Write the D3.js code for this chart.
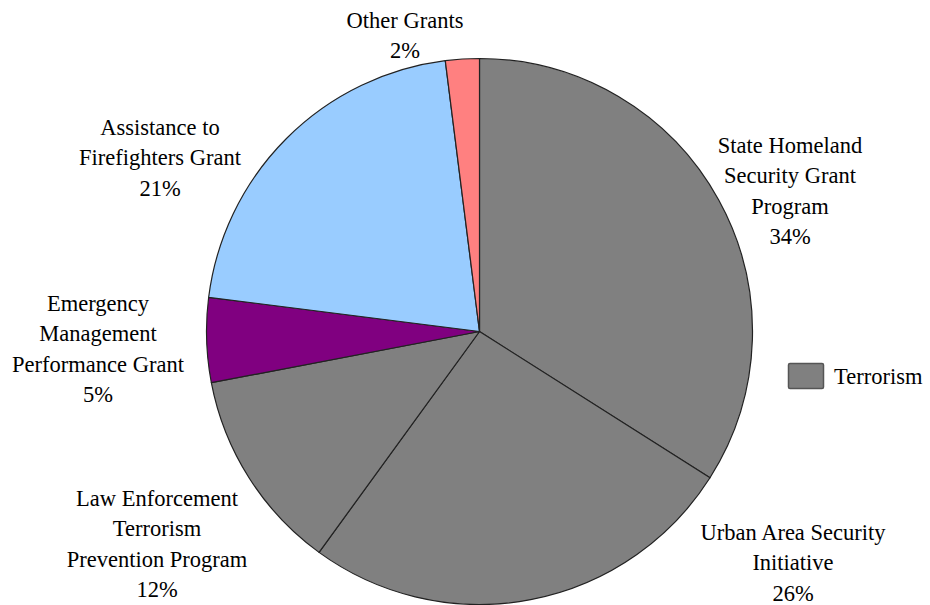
<!DOCTYPE html>
<html>
<head>
<meta charset="utf-8">
<script src="https://cdn.jsdelivr.net/npm/d3@7"></script>
</head>
<body style="margin:0">
<svg id="chart" width="930" height="605"></svg>
<script>
// Grant categories, clockwise from 12 o'clock
const categories = [
  "State Homeland Security Grant Program",
  "Urban Area Security Initiative",
  "Law Enforcement Terrorism Prevention Program",
  "Emergency Management Performance Grant",
  "Assistance to Firefighters Grant",
  "Other Grants"
];
const shares = [34, 26, 12, 5, 21, 2];
const labelLines = [
  ["State Homeland", "Security Grant", "Program"],
  ["Urban Area Security", "Initiative"],
  ["Law Enforcement", "Terrorism", "Prevention Program"],
  ["Emergency", "Management", "Performance Grant"],
  ["Assistance to", "Firefighters Grant"],
  ["Other Grants"]
];
const legendItems = ["Terrorism"];

// Styling and layout
const serif = "Times New Roman";
const fills = ["#808080", "#808080", "#808080", "#800080", "#99ccff", "#ff8080"];
const cx = 479.5, cy = 331.5, radius = 273;
const fontSize = 22.5, lineGap = 30.3;
// first-line centre of each label block
const labelAnchor = [
  [790, 145], [793, 532], [157, 498], [98, 303], [160, 127], [405, 20]
];

const svg = d3.select("#chart");

const pie = d3.pie().sort(null).value(d => d)
  .startAngle(0).endAngle(2 * Math.PI);
const arc = d3.arc().innerRadius(0).outerRadius(radius);

const g = svg.append("g").attr("transform", `translate(${cx},${cy})`);
g.selectAll("path")
  .data(pie(shares))
  .join("path")
  .attr("d", arc)
  .attr("fill", (d, i) => fills[i])
  .attr("stroke", "#222")
  .attr("stroke-width", 1.2)
  .attr("stroke-linejoin", "round");

// Slice labels, one text per line
const fmt = d => d + "%";
const labels = svg.append("g");
categories.forEach((c, i) => {
  const lines = labelLines[i].concat([fmt(shares[i])]);
  const [x, y] = labelAnchor[i];
  lines.forEach((ln, j) => {
    labels.append("text")
      .style("font-family", serif)
      .attr("font-size", fontSize)
      .attr("text-anchor", "middle")
      .attr("x", x)
      .attr("y", y + j * lineGap + 8)
      .text(ln);
  });
});

// Legend
const legend = svg.append("g").attr("transform", "translate(788,363)");
legendItems.forEach((name, i) => {
  const row = legend.append("g").attr("transform", `translate(0,${i * 30})`);
  row.append("rect")
    .attr("x", 0.5).attr("y", 0.5)
    .attr("width", 35).attr("height", 25)
    .attr("rx", 1.5)
    .attr("fill", fills[0])
    .attr("stroke", "#555")
    .attr("stroke-width", 1.5);
  row.append("text")
    .style("font-family", serif)
    .attr("font-size", fontSize)
    .attr("x", 46)
    .attr("y", 21)
    .text(name);
});
</script>
</body>
</html>
